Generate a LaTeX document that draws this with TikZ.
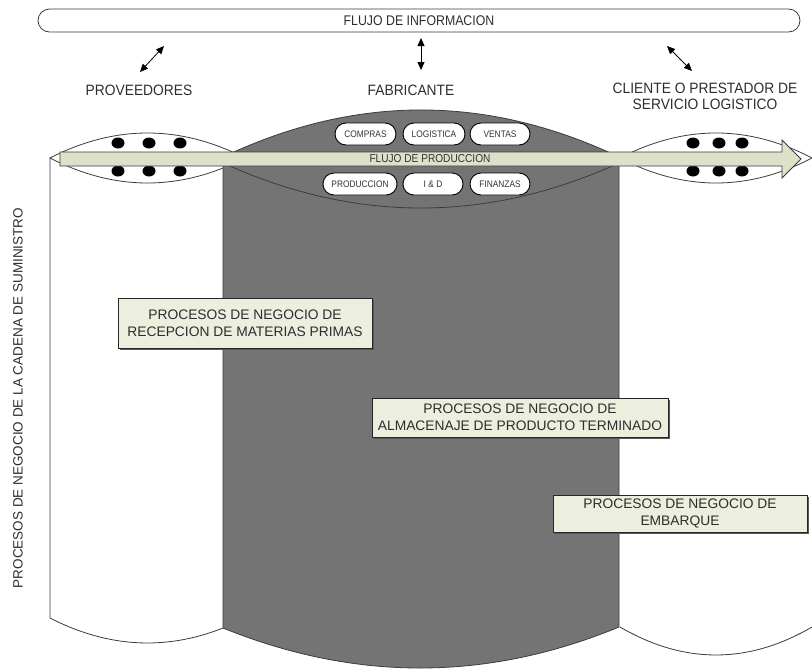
\documentclass[tikz,border=0pt]{standalone}
\usepackage{fontspec}
\setmainfont{Liberation Sans}
\newfontfamily\narrowfont[FakeStretch=0.88]{Liberation Sans}
\newfontfamily\labelfont[FakeStretch=0.92]{Liberation Sans}
\usetikzlibrary{shapes.misc,arrows.meta,shadows}
\definecolor{colgray}{RGB}{116,116,116}
\definecolor{bandfill}{RGB}{221,225,202}
\definecolor{boxfill}{RGB}{236,238,222}
\definecolor{inkgray}{RGB}{45,45,45}
\definecolor{edgegray}{RGB}{60,60,60}
\begin{document}
\begin{tikzpicture}[x=1pt,y=-1pt,
  edge/.style={draw=edgegray,line width=0.8pt},
  whitecol/.style={fill=white,edge},
  pill/.style={rounded rectangle,draw=black,line width=0.9pt,fill=white,
    minimum height=22pt,inner sep=0pt,text=black!80,font=\narrowfont\fontsize{9.5}{11}\selectfont},
  procbox/.style={rectangle,draw=black!85,line width=0.8pt,fill=boxfill,
    inner sep=0pt,align=center,text=inkgray,
    font=\fontsize{13.8}{17}\selectfont,
    drop shadow={shadow xshift=1.6pt,shadow yshift=-1.6pt,fill=black!65,opacity=1}},
  toplabel/.style={font=\labelfont\fontsize{15}{16}\selectfont,text=inkgray,align=center,inner sep=0pt},
  dblarrow/.style={{Triangle[length=8pt,width=7pt]}-{Triangle[length=8pt,width=7pt]},line width=0.8pt},
  dot/.style={fill=black}]
\useasboundingbox (0,0) rectangle (812,670);

% white column on the left (supplier side)
\path[whitecol] (245,158) -- (50,158) -- (50,618)
  .. controls (115,651.3) and (180,651.3) .. (245,618) -- cycle;
\draw[whitecol] (50,158) .. controls (115,124.67) and (180,124.67) .. (245,158)
  .. controls (180,191.33) and (115,191.33) .. cycle;

% white column on the right (customer side)
\fill[white] (620,158) rectangle (812,627);
\fill[white] (620,627) .. controls (684,664.3) and (748,664.3) .. (812,627) -- cycle;
\draw[edge] (620,627) .. controls (684,664.3) and (748,664.3) .. (812,627);
\draw[whitecol] (620,158) .. controls (684,124.67) and (748,124.67) .. (812,158)
  .. controls (748,191.33) and (684,191.33) .. cycle;

% dark central column (manufacturer)
\draw[edge,fill=colgray] (223,157) .. controls (355,94.3) and (487,94.3) .. (619,157)
  -- (619,627) .. controls (487,681.5) and (355,681.5) .. (223,628) -- cycle;
\draw[edge] (223,163) .. controls (355,223) and (487,223) .. (619,163);

% dots on the side lenses
\foreach \x in {118,149,180,693,719,742}{
  \fill[dot] (\x,143) ellipse [x radius=6.5pt,y radius=5.5pt];
  \fill[dot] (\x,171) ellipse [x radius=6.5pt,y radius=5.5pt];
}

% production flow arrow
\draw[draw=edgegray,line width=0.8pt,fill=bandfill]
  (60,152) -- (782,152) -- (782,140) -- (801,159) -- (782,178) -- (782,166) -- (60,166) -- cycle;
\node[font=\narrowfont\fontsize{11.5}{12}\selectfont,text=black!80,inner sep=0pt] (flujoprod) at (430,158.5) {FLUJO DE PRODUCCION};

% functional areas of the manufacturer
\node[pill,minimum width=61pt] (compras) at (365.5,134) {COMPRAS};
\node[pill,minimum width=62pt] (logistica) at (434,134) {LOGISTICA};
\node[pill,minimum width=60pt] (ventas) at (500,134) {VENTAS};
\node[pill,minimum width=74pt] (produccion) at (360,184) {PRODUCCION};
\node[pill,minimum width=60pt] (iyd) at (433,184) {I \& D};
\node[pill,minimum width=60pt] (finanzas) at (500,184) {FINANZAS};

% business process boxes
\node[procbox,minimum width=254pt,minimum height=50pt] (recepcion) at (245,323)
  {PROCESOS DE NEGOCIO DE\\RECEPCION DE MATERIAS PRIMAS};
\node[procbox,minimum width=296pt,minimum height=39pt] (almacenaje) at (520,417.5)
  {PROCESOS DE NEGOCIO DE\\ALMACENAJE DE PRODUCTO TERMINADO};
\node[procbox,minimum width=254pt,minimum height=37pt] (embarque) at (680,513.5)
  {PROCESOS DE NEGOCIO DE\\EMBARQUE};

% information flow header
\node[rounded rectangle,draw=edgegray,line width=0.8pt,minimum width=762pt,minimum height=23pt,
  inner sep=0pt,font=\narrowfont\fontsize{14}{16}\selectfont,text=inkgray] (info) at (419,20.5)
  {FLUJO DE INFORMACION};

\node[toplabel] (proveedores) at (139,90) {PROVEEDORES};
\node[toplabel] (fabricante) at (411,90) {FABRICANTE};
\node[toplabel] (cliente) at (705,96) {CLIENTE O PRESTADOR DE\\SERVICIO LOGISTICO};

\coordinate (pa) at (140,72);
\coordinate (pb) at (164,46);
\coordinate (fa) at (421,70);
\coordinate (fb) at (421,38);
\coordinate (ca) at (692,71);
\coordinate (cb) at (667,46);
\draw[dblarrow] (pa) -- (pb);
\draw[dblarrow] (fa) -- (fb);
\draw[dblarrow] (ca) -- (cb);

% side caption
\node[rotate=90,font=\fontsize{13.5}{16}\selectfont,text=inkgray,inner sep=0pt] (cadena) at (18,398)
  {PROCESOS DE NEGOCIO DE LA CADENA DE SUMINISTRO};
\end{tikzpicture}
\end{document}
